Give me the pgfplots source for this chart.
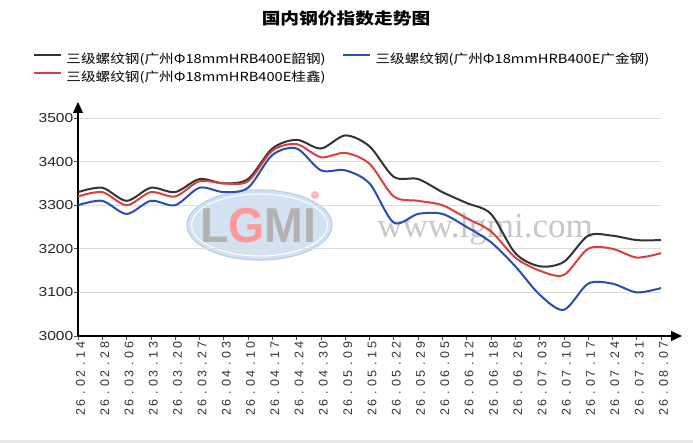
\documentclass[border=0pt]{standalone}
\usepackage{fontspec}
\usepackage{pgfplots}
\usepackage{pgfplotstable}
\pgfplotsset{compat=1.18}
\usetikzlibrary{arrows.meta}
\setmainfont{Liberation Sans}
\newfontfamily\cjk[FakeStretch=1.17]{Noto Sans CJK SC}
\newfontfamily\numfont[FakeStretch=1.2]{Liberation Sans}
\newfontfamily\tickfont{Liberation Sans}
\newfontfamily\logofont[FakeStretch=0.95]{Liberation Sans}
\newfontfamily\wwwfont{Liberation Serif}
\definecolor{cblack}{HTML}{333333}
\definecolor{cred}{HTML}{D9403F}
\definecolor{cblue}{HTML}{2A4DB3}
\definecolor{gridc}{HTML}{DCDCDC}
\definecolor{ellc}{HTML}{D3E2F3}
\definecolor{ellb}{HTML}{B8CFEA}
\newcommand\vlab[1]{\vlabi#1\relax}
\def\vlabi#1{\ifx#1\relax\else\makebox[9.6pt]{#1}\expandafter\vlabi\fi}
\pgfplotstableread{
x black red blue
0 3330 3320 3300
1 3340 3330 3310
2 3310 3300 3280
3 3340 3330 3310
4 3330 3320 3300
5 3360 3355 3340
6 3350 3350 3330
7 3360 3355 3340
8 3430 3425 3415
9 3450 3440 3430
10 3430 3410 3380
11 3460 3420 3380
12 3435 3395 3350
13 3365 3320 3260
14 3360 3310 3280
15 3330 3300 3280
16 3305 3270 3250
17 3280 3240 3215
18 3190 3180 3160
19 3160 3150 3095
20 3170 3140 3060
21 3230 3200 3120
22 3230 3200 3120
23 3220 3180 3100
24 3220 3190 3110
}\data
\begin{document}
\begin{tikzpicture}[x=1pt,y=1pt]
\path[use as bounding box, fill=white] (0,0) rectangle (693,443);
\fill[gray!18] (0,0) rectangle (693,3);
% watermark
\filldraw[fill=ellc, draw=ellb, line width=1.2pt] (259.5,218) ellipse [x radius=72.5, y radius=35];
\draw[white, line width=1pt] (259.5,218) ellipse [x radius=68, y radius=31];
\node[anchor=base, inner sep=0pt, font=\logofont\bfseries\fontsize{49}{49}\selectfont, text=black!30] at (258.5,200) {L\textcolor{red!40}{G}MI};
\fill[red!28] (315,248) circle (4);
\node[anchor=base, inner sep=0pt, font=\wwwfont\fontsize{35}{35}\selectfont, text=black!22] at (485,205) {www.lgmi.com};
% title
\node[font=\cjk\bfseries\fontsize{16}{16}\selectfont] at (346,425) {国内钢价指数走势图};
\begin{axis}[
  at={(78pt,107pt)}, anchor=south west,
  scale only axis, width=583pt, height=218pt,
  xmin=0, xmax=24, ymin=3000, ymax=3500,
  axis lines=left,
  axis line style={line width=1.1pt, black},
  x axis line style={-{Triangle[length=11pt,width=10pt]}, shorten >=-21pt},
  y axis line style={-{Triangle[length=11pt,width=10pt]}, shorten >=-16pt},
  tick align=outside, major tick length=4pt,
  tick style={black!70, line width=0.6pt},
  ymajorgrids, grid style={gridc, line width=0.8pt},
  ytick={3000,3100,...,3500},
  /pgf/number format/assume math mode=true,
  /pgf/number format/1000 sep={},
  yticklabel style={font=\numfont\fontsize{13}{13}\selectfont, text=black!85, inner sep=0pt, xshift=-0.5pt},
  xtick={0,...,24},
  xticklabels={\vlab{26.02.14},\vlab{26.02.28},\vlab{26.03.06},\vlab{26.03.13},\vlab{26.03.20},\vlab{26.03.27},\vlab{26.04.03},\vlab{26.04.10},\vlab{26.04.17},\vlab{26.04.24},\vlab{26.04.30},\vlab{26.05.09},\vlab{26.05.15},\vlab{26.05.22},\vlab{26.05.29},\vlab{26.06.05},\vlab{26.06.12},\vlab{26.06.18},\vlab{26.06.26},\vlab{26.07.03},\vlab{26.07.10},\vlab{26.07.17},\vlab{26.07.24},\vlab{26.07.31},\vlab{26.08.07}},
  xticklabel style={rotate=90, anchor=east, inner sep=0pt, font=\tickfont\fontsize{12.5}{12.5}\selectfont, text=black!80, yshift=-2.5pt},
  legend columns=2,
  legend cell align=left,
  legend image code/.code={\draw[#1, line width=2pt] (0pt,4.5pt) -- (27pt,4.5pt);},
  legend style={at={(-0.0772,1.3005)}, anchor=north west, draw=none, fill=none,
    inner sep=0pt, outer sep=0pt, row sep=3.5pt,
    font=\cjk\fontsize{12.5}{13}\selectfont,
    nodes={inner xsep=4.5pt, inner ysep=0pt, text height=11pt, text depth=3.5pt},
    /tikz/every even column/.append style={column sep=12pt}},
]
\addplot[cblack, line width=2pt, smooth, no marks] table[x=x, y=black]{\data};
\addlegendentry{三级螺纹钢(广州Φ18mmHRB400E韶钢)}
\addplot[cblue, line width=2pt, smooth, no marks] table[x=x, y=blue]{\data};
\addlegendentry{三级螺纹钢(广州Φ18mmHRB400E广金钢)}
\addplot[cred, line width=2pt, smooth, no marks] table[x=x, y=red]{\data};
\addlegendentry{三级螺纹钢(广州Φ18mmHRB400E桂鑫)}
\end{axis}
\end{tikzpicture}
\end{document}
